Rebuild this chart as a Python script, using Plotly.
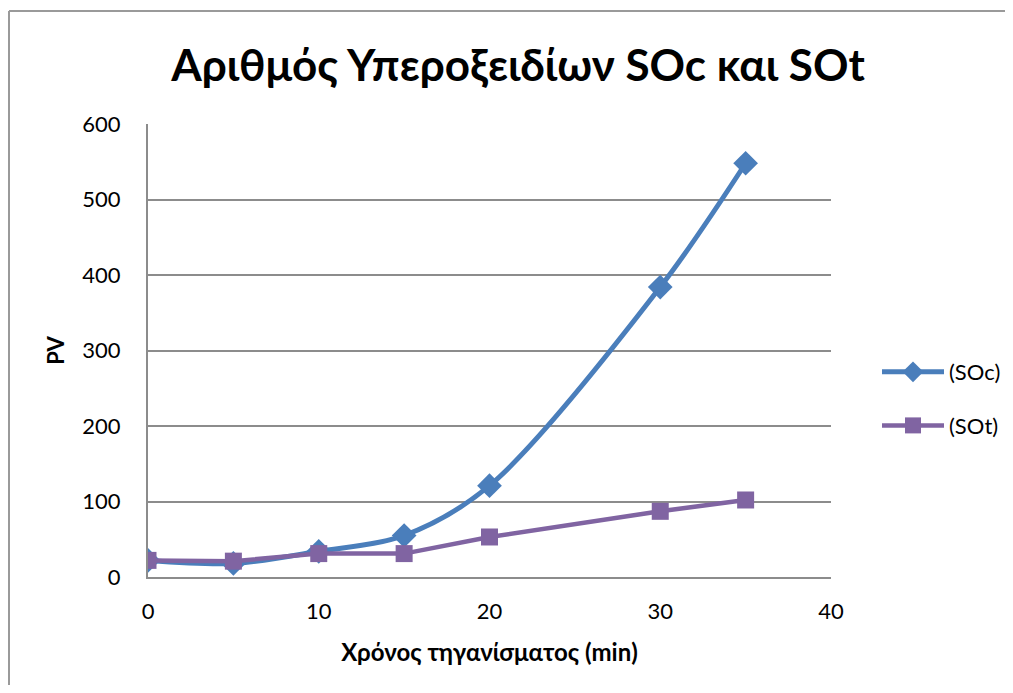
import plotly.graph_objects as go

time_min = [0, 5, 10, 15, 20, 30, 35]
soc_values = [22, 18, 34, 55, 121, 384, 548]
sot_values = [22, 21, 31, 31, 53, 87, 102]
series_names = ["(SOc)", "(SOt)"]
y_ticks = [0, 100, 200, 300, 400, 500, 600]
x_ticks = [0, 10, 20, 30, 40]

# page offset of the figure inside the browser window
OX, OY = 7, 8
W, H = 997, 677
L, T = 147 - OX, 124 - OY
R = W - (830 - OX)
B = H - (577 - OY)
pw, ph = W - L - R, H - T - B

def px_x(p):
    return (p - OX - L) / pw

def px_y(p):
    return (H - B - (p - OY)) / ph

fig = go.Figure()
fig.add_trace(go.Scatter(
    x=time_min, y=soc_values, name=series_names[0], mode="lines+markers",
    legendgroup="a",
    line=dict(color="#4A7EBB", width=5, shape="spline", smoothing=0.9),
    marker=dict(symbol="diamond", size=19, color="#4A7EBB"),
))
fig.add_trace(go.Scatter(
    x=time_min, y=sot_values, name=series_names[1], mode="lines+markers",
    legendgroup="b",
    line=dict(color="#8064A2", width=4.5),
    marker=dict(symbol="square", size=17, color="#8064A2"),
))

font_family = "Lato, 'Open Sans', sans-serif"

fig.update_layout(
    width=W, height=H,
    margin=dict(l=L, r=R, t=T, b=B, autoexpand=False),
    paper_bgcolor="white", plot_bgcolor="white",
    font=dict(family=font_family, color="#000000", size=22),
    title=dict(text="<b>Αριθμός Υπεροξειδίων SOc και SOt</b>",
               x=(517 - OX) / W, xanchor="center",
               y=1 - (66 - OY) / H, yanchor="middle",
               font=dict(size=44, family=font_family, color="#000000")),
    showlegend=True,
    legend=dict(x=px_x(876), y=px_y(399), xanchor="left", yanchor="middle",
                font=dict(size=22, family=font_family), itemwidth=62,
                tracegroupgap=22, bgcolor="rgba(0,0,0,0)"),
    xaxis=dict(range=[0, 40], tickvals=x_ticks, showgrid=False, zeroline=False,
               showline=True, linecolor="#8c8c8c", linewidth=2,
               ticks="", ticklabelstandoff=14,
               title=dict(text="<b>Χρόνος τηγανίσματος (min)</b>",
                          font=dict(size=24, family=font_family), standoff=21)),
    yaxis=dict(range=[0, 600], tickvals=y_ticks, showgrid=True,
               gridcolor="#8c8c8c", gridwidth=1.5, zeroline=False,
               showline=True, linecolor="#8c8c8c", linewidth=2,
               ticks="", ticklabelstandoff=21,
               title=dict(text="<b>PV</b>",
                          font=dict(size=22, family=font_family), standoff=12)),
)

# chart-area frame (left and top edges visible in the window)
fig.add_shape(type="line", xref="paper", yref="paper",
              x0=px_x(8), x1=px_x(8), y0=px_y(730), y1=px_y(11),
              line=dict(color="#9a9a9a", width=2), layer="below")
fig.add_shape(type="line", xref="paper", yref="paper",
              x0=px_x(8), x1=px_x(1060), y0=px_y(11), y1=px_y(11),
              line=dict(color="#9a9a9a", width=2), layer="below")

fig.write_html("out.html")
